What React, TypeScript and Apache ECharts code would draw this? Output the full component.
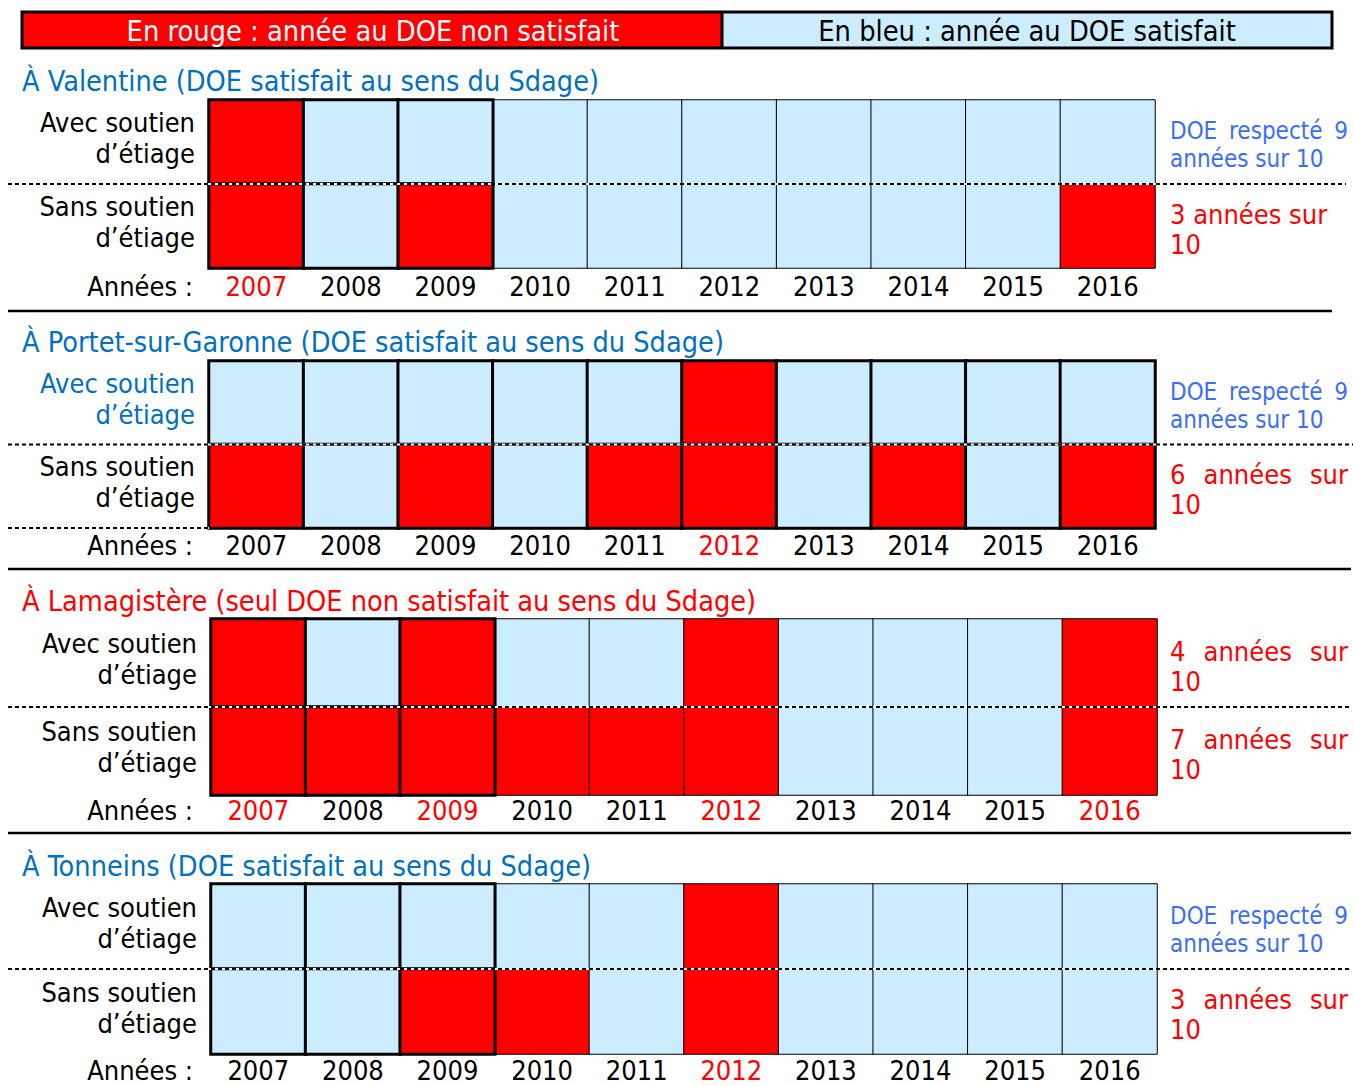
import React, { useEffect, useRef } from 'react';
import * as echarts from 'echarts';

// Années du suivi
const years = ['2007', '2008', '2009', '2010', '2011', '2012', '2013', '2014', '2015', '2016'];
const rowLabels = ['Avec soutien\nd’étiage', 'Sans soutien\nd’étiage'];

// 1 = DOE non satisfait, 0 = DOE satisfait
const valentineAvec = [1, 0, 0, 0, 0, 0, 0, 0, 0, 0];
const valentineSans = [1, 0, 1, 0, 0, 0, 0, 0, 0, 1];
const portetAvec = [0, 0, 0, 0, 0, 1, 0, 0, 0, 0];
const portetSans = [1, 0, 1, 0, 1, 1, 0, 1, 0, 1];
const lamagistereAvec = [1, 0, 1, 0, 0, 1, 0, 0, 0, 1];
const lamagistereSans = [1, 1, 1, 1, 1, 1, 0, 0, 0, 1];
const tonneinsAvec = [0, 0, 0, 0, 0, 1, 0, 0, 0, 0];
const tonneinsSans = [0, 0, 1, 1, 0, 1, 0, 0, 0, 0];

const legendRed = 'En rouge : année au DOE non satisfait';
const legendBlue = 'En bleu : année au DOE satisfait';

const FONT = '"DejaVu Sans Condensed", "DejaVu Sans", sans-serif';
const RED = '#FF0000';
const LIGHT_BLUE = '#CCECFF';
const TITLE_BLUE = '#0070C0';
const NOTE_BLUE = '#3B6EF5';

type Panel = {
  title: string;
  titleColor: string;
  avec: number[];
  sans: number[];
  avecLabelColor: string;
  heavyCols: number;
  left: number;
  top: number;
  height: number;
  titleY: number;
  yearsY: number;
  sepY?: number;
  sepRight?: number;
  dashRight: number;
  bottomDash?: boolean;
  justifySans: boolean;
};

const panels: Panel[] = [
  {
    title: 'À Valentine (DOE satisfait au sens du Sdage)', titleColor: TITLE_BLUE,
    avec: valentineAvec, sans: valentineSans, avecLabelColor: '#000', heavyCols: 3,
    left: 209, top: 100, height: 168, titleY: 81, yearsY: 286, sepY: 311, sepRight: 1332, dashRight: 1346,
    justifySans: false,
  },
  {
    title: 'À Portet-sur-Garonne (DOE satisfait au sens du Sdage)', titleColor: TITLE_BLUE,
    avec: portetAvec, sans: portetSans, avecLabelColor: TITLE_BLUE, heavyCols: 10,
    left: 209, top: 361, height: 167, titleY: 342, yearsY: 545, sepY: 569, sepRight: 1351, dashRight: 1353,
    bottomDash: true, justifySans: true,
  },
  {
    title: 'À Lamagistère (seul DOE non satisfait au sens du Sdage)', titleColor: RED,
    avec: lamagistereAvec, sans: lamagistereSans, avecLabelColor: '#000', heavyCols: 3,
    left: 211, top: 619, height: 176, titleY: 601, yearsY: 810, sepY: 833, sepRight: 1351, dashRight: 1351,
    justifySans: true,
  },
  {
    title: 'À Tonneins (DOE satisfait au sens du Sdage)', titleColor: TITLE_BLUE,
    avec: tonneinsAvec, sans: tonneinsSans, avecLabelColor: '#000', heavyCols: 3,
    left: 211, top: 884, height: 170, titleY: 866, yearsY: 1070, dashRight: 1351,
    justifySans: true,
  },
];

const GRID_WIDTH = 946;
const NOTE_X = 1170;
const NOTE_RIGHT = 1348;

let measureCtx: CanvasRenderingContext2D | null = null;
function textWidth(text: string, size: number): number {
  if (!measureCtx) measureCtx = document.createElement('canvas').getContext('2d');
  if (!measureCtx) return text.length * size * 0.55;
  measureCtx.font = `${size}px ${FONT}`;
  return measureCtx.measureText(text).width;
}

function countFails(values: number[]): number {
  return values.reduce((s, v) => s + v, 0);
}

// Note text beside a row: years kept (blue) when only one failure, else failures (red)
function note(fails: number) {
  const total = years.length;
  if (fails <= 1) {
    return { color: NOTE_BLUE, size: 24, lh: 28, words: ['DOE', 'respecté', String(total - fails)], second: `années sur ${total}` };
  }
  return { color: RED, size: 27, lh: 30, words: [String(fails), 'années', 'sur'], second: String(total) };
}

function noteElements(fails: number, centerY: number, justify: boolean): any[] {
  const n = note(fails);
  const y1 = centerY - n.lh / 2;
  const y2 = centerY + n.lh / 2;
  const textStyle = { fill: n.color, fontSize: n.size, fontFamily: FONT, align: 'left', verticalAlign: 'middle' };
  const els: any[] = [];
  if (justify) {
    const widths = n.words.map((w) => textWidth(w, n.size));
    const sum = widths.reduce((a, b) => a + b, 0);
    const gap = (NOTE_RIGHT - NOTE_X - sum) / (n.words.length - 1);
    let x = NOTE_X;
    n.words.forEach((w, i) => {
      els.push({ type: 'text', x, y: y1, z: 20, style: { ...textStyle, text: w } });
      x += widths[i] + gap;
    });
  } else {
    els.push({ type: 'text', x: NOTE_X, y: y1, z: 20, style: { ...textStyle, text: n.words.join(' ') } });
  }
  els.push({ type: 'text', x: NOTE_X, y: y2, z: 20, style: { ...textStyle, text: n.second } });
  return els;
}

function dashedLine(y: number, x1: number, x2: number): any[] {
  return [
    { type: 'line', z: 15, shape: { x1, y1: y, x2, y2: y }, style: { stroke: '#fff', lineWidth: 2 } },
    { type: 'line', z: 16, shape: { x1, y1: y, x2, y2: y }, style: { stroke: '#000', lineWidth: 2, lineDash: [4, 3] } },
  ];
}

function buildOption() {
  const grid: any[] = [];
  const xAxis: any[] = [];
  const yAxis: any[] = [];
  const series: any[] = [];
  const graphic: any[] = [];

  // Legend banner
  graphic.push(
    { type: 'rect', z: 5, shape: { x: 22, y: 12, width: 700, height: 36 }, style: { fill: RED } },
    { type: 'rect', z: 5, shape: { x: 722, y: 12, width: 610, height: 36 }, style: { fill: LIGHT_BLUE } },
    { type: 'rect', z: 6, shape: { x: 22, y: 12, width: 1310, height: 36 }, style: { fill: 'none', stroke: '#000', lineWidth: 3 } },
    { type: 'line', z: 6, shape: { x1: 722, y1: 12, x2: 722, y2: 48 }, style: { stroke: '#000', lineWidth: 3 } },
    {
      type: 'text', x: 373, y: 31, z: 7,
      style: { text: legendRed, fill: '#fff', fontSize: 28.7, fontFamily: FONT, align: 'center', verticalAlign: 'middle' },
    },
    {
      type: 'text', x: 1027, y: 31, z: 7,
      style: { text: legendBlue, fill: '#000', fontSize: 28.7, fontFamily: FONT, align: 'center', verticalAlign: 'middle' },
    },
  );

  panels.forEach((p, i) => {
    grid.push({ left: p.left, top: p.top, width: GRID_WIDTH, height: p.height });

    xAxis.push({
      type: 'category', gridIndex: i, data: years, position: 'bottom',
      axisLine: { show: false }, axisTick: { show: false }, splitLine: { show: false },
      axisLabel: {
        interval: 0, fontSize: 27, fontFamily: FONT, verticalAlign: 'middle',
        margin: p.yearsY - (p.top + p.height),
        color: (val: string) => (p.avec[years.indexOf(val)] === 1 ? RED : '#000'),
      },
    });

    yAxis.push({
      type: 'category', gridIndex: i, data: rowLabels, inverse: true,
      axisLine: { show: false }, axisTick: { show: false }, splitLine: { show: false },
      axisLabel: {
        fontSize: 27, fontFamily: FONT, lineHeight: 31, margin: 14, align: 'right',
        // a short blank line under the two text lines lifts them slightly above the row centre
        formatter: (val: string) => `${val}\n{gap| }`,
        rich: { gap: { fontSize: 2, lineHeight: 8 } },
        color: (val: string) => (val === rowLabels[0] ? p.avecLabelColor : '#000'),
      },
    });

    const thin: number[][] = [];
    const heavy: number[][] = [];
    [p.avec, p.sans].forEach((row, r) => {
      row.forEach((v, c) => {
        (c < p.heavyCols ? heavy : thin).push([c, r, v]);
      });
    });
    series.push({
      type: 'heatmap', xAxisIndex: i, yAxisIndex: i, data: thin, z: 2,
      itemStyle: { borderColor: '#000', borderWidth: 1 },
      emphasis: { disabled: true },
    });
    series.push({
      type: 'heatmap', xAxisIndex: i, yAxisIndex: i, data: heavy, z: 3,
      itemStyle: { borderColor: '#000', borderWidth: 3 },
      emphasis: { disabled: true },
    });

    // Title
    graphic.push({
      type: 'text', x: 22, y: p.titleY, z: 20,
      style: { text: p.title, fill: p.titleColor, fontSize: 28.6, fontFamily: FONT, align: 'left', verticalAlign: 'middle' },
    });
    // "Années :"
    graphic.push({
      type: 'text', x: 193, y: p.yearsY, z: 20,
      style: { text: 'Années :', fill: '#000', fontSize: 27, fontFamily: FONT, align: 'right', verticalAlign: 'middle' },
    });

    const rowH = p.height / 2;
    const midY = p.top + rowH;
    graphic.push(...dashedLine(midY, 8, p.dashRight));
    if (p.bottomDash) graphic.push(...dashedLine(p.top + p.height, 8, p.left));
    if (p.sepY !== undefined) {
      graphic.push({
        type: 'line', z: 20, shape: { x1: 8, y1: p.sepY, x2: p.sepRight, y2: p.sepY },
        style: { stroke: '#000', lineWidth: 2.5 },
      });
    }

    graphic.push(...noteElements(countFails(p.avec), p.top + rowH / 2 + 3, true));
    graphic.push(...noteElements(countFails(p.sans), midY + rowH / 2 + 3, p.justifySans));
  });

  return {
    animation: false,
    backgroundColor: '#fff',
    grid,
    xAxis,
    yAxis,
    visualMap: {
      type: 'piecewise', show: false, dimension: 2,
      seriesIndex: series.map((_, k) => k),
      pieces: [
        { value: 0, color: LIGHT_BLUE },
        { value: 1, color: RED },
      ],
    },
    series,
    graphic,
  };
}

export default function App() {
  const ref = useRef<HTMLDivElement>(null);
  useEffect(() => {
    if (!ref.current) return;
    const chart = echarts.init(ref.current, undefined, { renderer: 'svg' });
    chart.setOption(buildOption());
    return () => chart.dispose();
  }, []);
  return (
    <div
      ref={ref}
      style={{ position: 'absolute', left: 0, top: 0, width: 1353, height: 1086, background: '#fff' }}
    />
  );
}
